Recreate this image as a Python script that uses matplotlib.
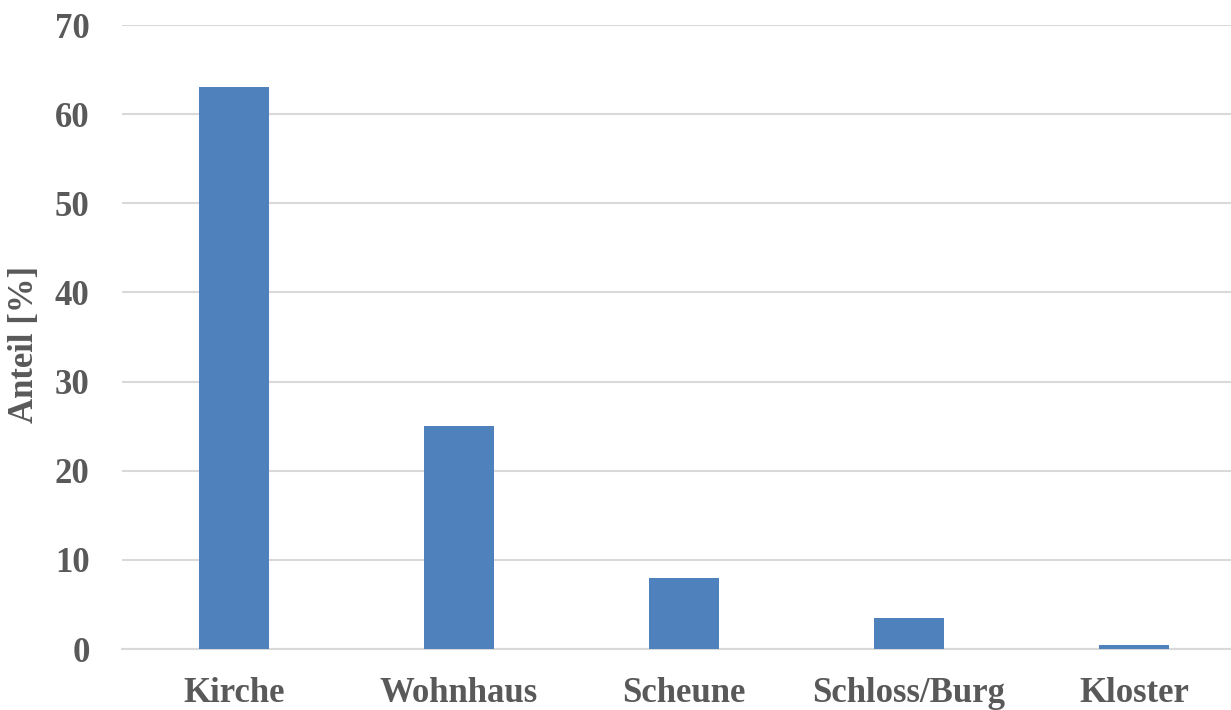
import matplotlib
matplotlib.use('agg')
import matplotlib.pyplot as plt

categories = ['Kirche', 'Wohnhaus', 'Scheune', 'Schloss/Burg', 'Kloster']
values = [63, 25, 8, 3.5, 0.5]
yticks = [0, 10, 20, 30, 40, 50, 60, 70]

plt.rcParams['font.family'] = ['Liberation Serif', 'DejaVu Serif']
plt.rcParams['font.weight'] = 'bold'
text_color = '#595959'

fig = plt.figure(figsize=(12.31, 7.10), dpi=100)
ax = fig.add_axes([121.5 / 1231, 61 / 710, 1125 / 1231, 624 / 710])

x = range(len(categories))
ax.bar(x, values, width=0.31, color='#4F81BD', zorder=3)

ax.set_xlim(-0.5, len(categories) - 0.5)
ax.set_ylim(0, 70)
ax.set_yticks(yticks)
ax.set_xticks(list(x))
ax.set_xticklabels(categories)
ax.yaxis.grid(True, color='#D9D9D9', linewidth=1.5, zorder=0)
ax.xaxis.grid(False)

for side in ['top', 'right', 'left']:
    ax.spines[side].set_visible(False)
ax.spines['bottom'].set_color('#D9D9D9')
ax.spines['bottom'].set_linewidth(1.5)

ax.tick_params(axis='both', length=0, labelsize=25, colors=text_color)
ax.tick_params(axis='y', pad=23)
ax.tick_params(axis='x', pad=20)
for lbl in ax.get_xticklabels() + ax.get_yticklabels():
    lbl.set_fontweight('bold')

fig.text(25 / 1231, 366 / 710, 'Anteil [%]', rotation=90, ha='center', va='center',
         fontsize=25, fontweight='bold', color=text_color)

fig.savefig('out.png', dpi=100)
